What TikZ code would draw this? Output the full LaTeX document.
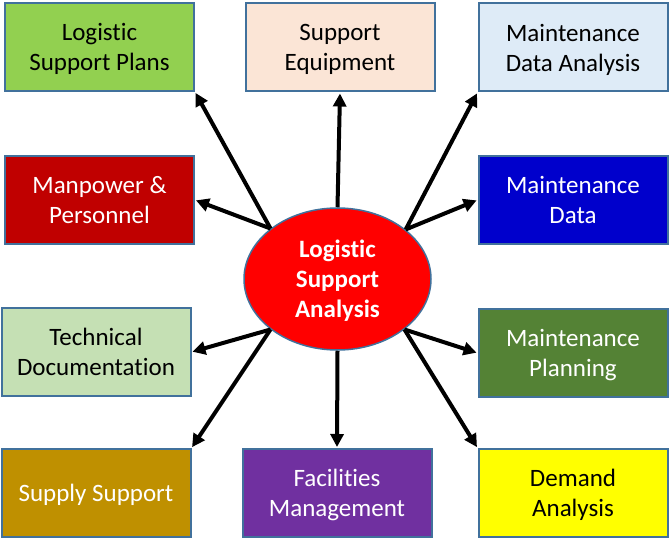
\documentclass[tikz,border=0pt]{standalone}
\usepackage{fontspec}
\setmainfont{Carlito}[Ligatures=NoCommon]
\usepackage{xcolor}
\usepackage{tikz}
\usetikzlibrary{arrows.meta,shapes.geometric}

\definecolor{rimblue}{HTML}{41719C}
\definecolor{plansgreen}{HTML}{92D050}
\definecolor{equippeach}{HTML}{FBE5D6}
\definecolor{analysisblue}{HTML}{DEEBF7}
\definecolor{manpowerred}{HTML}{C00000}
\definecolor{datablue}{HTML}{0000CC}
\definecolor{docgreen}{HTML}{C5E0B4}
\definecolor{planninggreen}{HTML}{548235}
\definecolor{supplygold}{HTML}{BF9000}
\definecolor{facpurple}{HTML}{7030A0}
\definecolor{demandyellow}{HTML}{FFFF00}

\tikzset{
    lsabox/.style={draw=rimblue, line width=2pt, minimum width=189pt, minimum height=88pt,
        inner sep=0pt, align=center, text depth=0pt, font=\fontsize{25}{30}\selectfont},
    darkbox/.style={lsabox, text=white},
    hub/.style={ellipse, draw=rimblue, line width=1.5pt, fill=red, text=white,
        minimum width=187pt, minimum height=142pt, inner sep=0pt, align=center,
        text depth=1.5pt, font=\fontsize{25}{30}\selectfont\bfseries},
    feed/.style={line width=4pt, -{Triangle[length=13pt,width=13pt]}, shorten >=1pt}
}

\begin{document}
\begin{tikzpicture}[x=1pt,y=-1pt]
    \useasboundingbox (0,0) rectangle (669,540);

    % boxes
    \node[lsabox, fill=plansgreen] (lsp) at (99.5,47) {Logistic\\Support Plans};
    \node[lsabox, fill=equippeach] (se) at (340,47.5) {Support\\Equipment};
    \node[lsabox, fill=analysisblue] (mda) at (573,47.5) {Maintenance\\Data Analysis};
    \node[darkbox, fill=manpowerred] (mp) at (99.5,200) {Manpower \&\\Personnel};
    \node[darkbox, fill=datablue] (md) at (573,200) {Maintenance\\Data};
    \node[lsabox, fill=docgreen] (td) at (96,352) {Technical\\Documentation};
    \node[darkbox, fill=planninggreen] (mpl) at (573,353) {Maintenance\\Planning};
    \node[darkbox, fill=supplygold] (ss) at (96,493) {Supply Support};
    \node[darkbox, fill=facpurple] (fm) at (337,493) {Facilities\\Management};
    \node[lsabox, fill=demandyellow] (da) at (573,493) {Demand\\Analysis};

    % centre
    \node[hub] (lsa) at (337.5,279) {Logistic\\Support\\Analysis};

    \draw[feed] (lsa.143) -- (lsp.south east);
    \draw[feed] (lsa.north) -- (se.south);
    \draw[feed] (lsa.36) -- (mda.south west);
    \draw[feed] (lsa.143) -- (mp.east);
    \draw[feed] (lsa.36) -- (md.west);
    \draw[feed] (lsa.217) -- (td.east);
    \draw[feed] (lsa.323) -- (mpl.west);
    \draw[feed] (lsa.217) -- (ss.north east);
    \draw[feed] (lsa.south) -- (fm.north);
    \draw[feed] (lsa.323) -- (da.north west);
\end{tikzpicture}
\end{document}
